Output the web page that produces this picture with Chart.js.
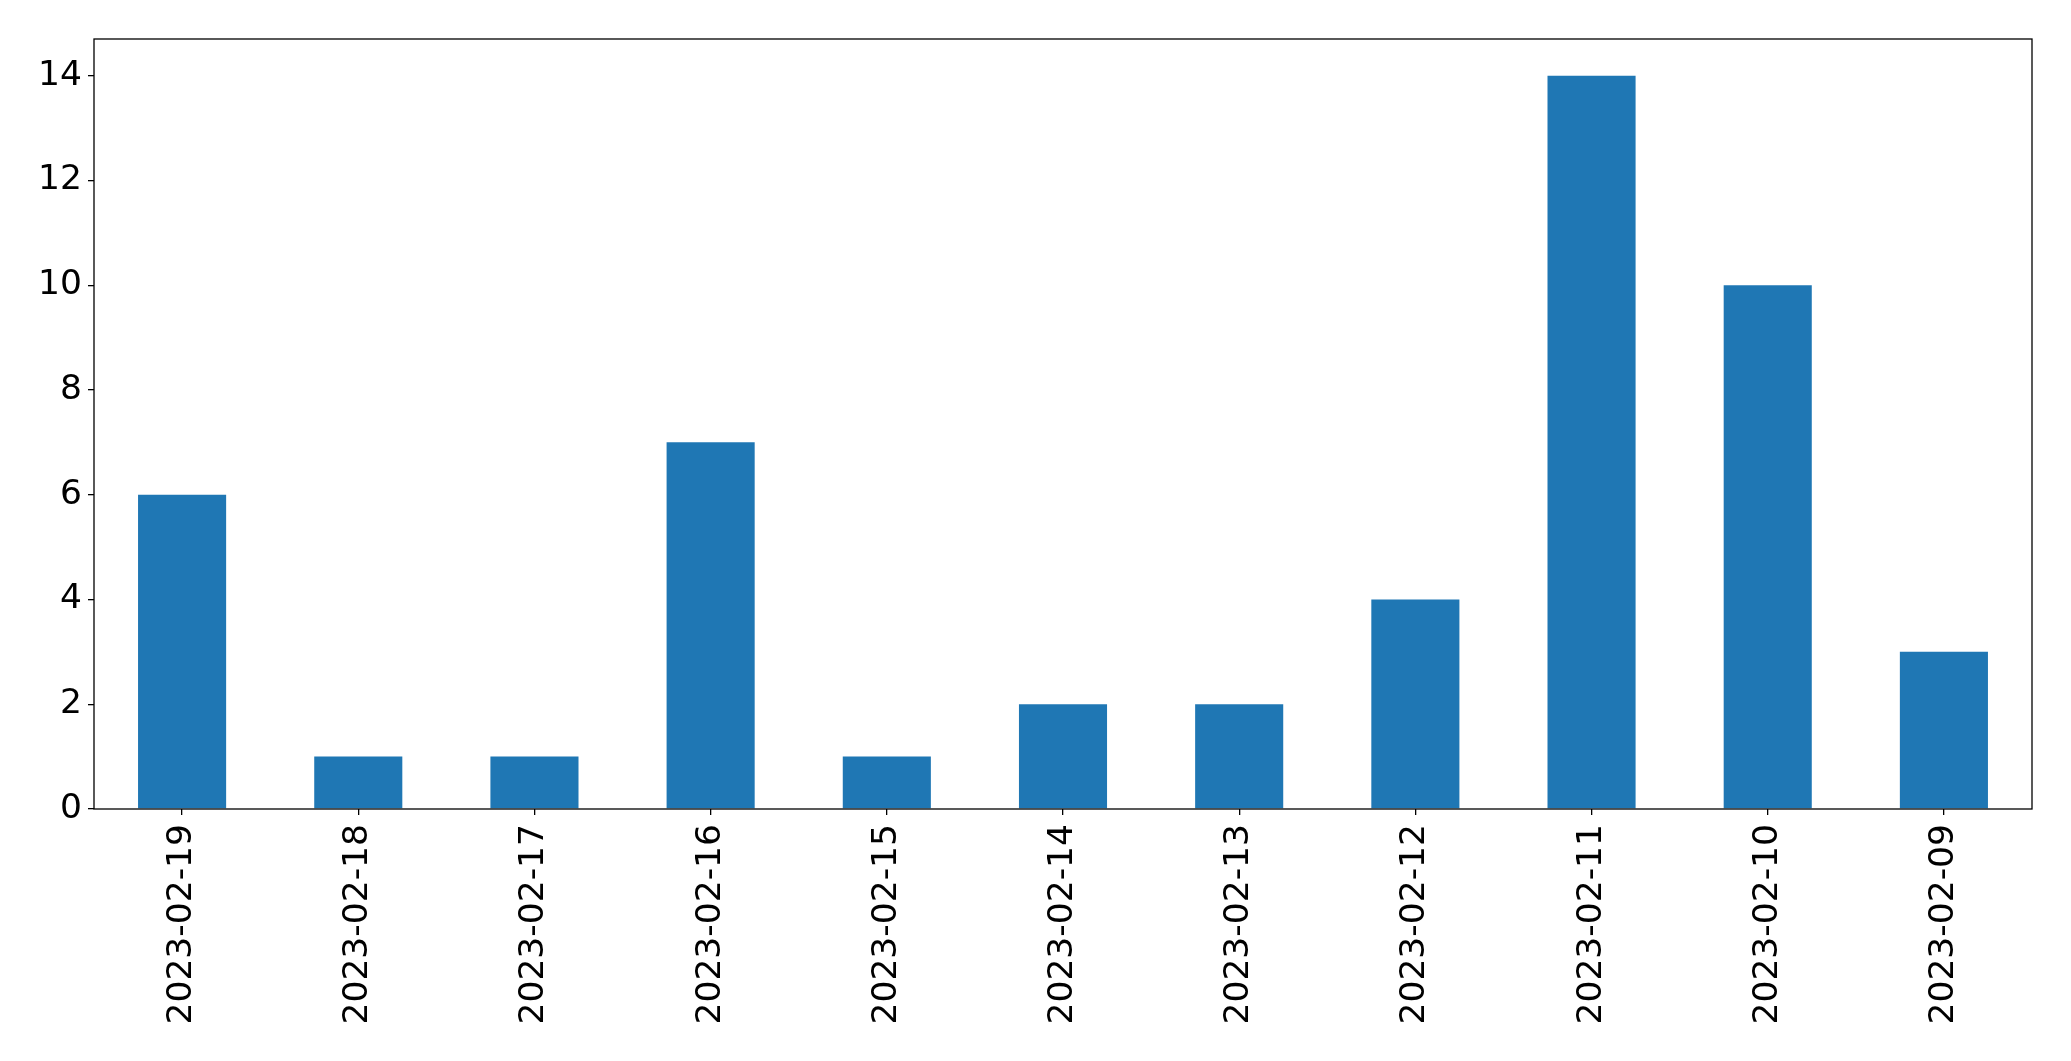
<!DOCTYPE html>
<html>
<head>
<meta charset="utf-8">
<script src="https://cdn.jsdelivr.net/npm/chart.js@4/dist/chart.umd.min.js"></script>
<style>
  html, body { margin: 0; padding: 0; background: #fff; }
  #wrap { width: 2071px; height: 1061px; }
</style>
</head>
<body>
<div id="wrap"><canvas id="grafico"></canvas></div>
<script>
// datos
var fechas = ['2023-02-19', '2023-02-18', '2023-02-17', '2023-02-16', '2023-02-15', '2023-02-14',
              '2023-02-13', '2023-02-12', '2023-02-11', '2023-02-10', '2023-02-09'];
var cantidades = [6, 1, 1, 7, 1, 2, 2, 4, 14, 10, 3];
var ticksY = [0, 2, 4, 6, 8, 10, 12, 14];

// marco negro alrededor del area del grafico
var marco = {
    id: 'marco',
    afterDraw: function(chart) {
        var a = chart.chartArea;
        var ctx = chart.ctx;
        ctx.save();
        ctx.strokeStyle = '#000';
        ctx.lineWidth = 1.3;
        ctx.strokeRect(a.left, a.top, a.right - a.left, a.bottom - a.top);
        ctx.restore();
    }
};

document.addEventListener("DOMContentLoaded", function() {
    Chart.defaults.font.family = 'DejaVu Sans';
    Chart.defaults.color = '#000';

    var ctx = document.getElementById('grafico').getContext('2d');

    var grafico = new Chart(ctx, {
        type: 'bar',
        data: {
            labels: fechas,
            datasets: [{
                data: cantidades,
                backgroundColor: '#1f77b4',
                borderWidth: 0,
                barPercentage: 0.5,
                categoryPercentage: 1.0
            }]
        },
        options: {
            responsive: true,
            maintainAspectRatio: false,
            animation: false,
            layout: { padding: { top: 39, right: 39, left: 0, bottom: 0 } },
            plugins: {
                legend: { display: false },
                tooltip: { enabled: false }
            },
            scales: {
                x: {
                    offset: true,
                    grid: { display: true, offset: false, drawOnChartArea: false, drawTicks: true, tickLength: 6, color: '#000', lineWidth: 1.3 },
                    border: { display: false },
                    ticks: { font: { size: 34.5 }, maxRotation: 90, minRotation: 90, padding: 9, autoSkip: false },
                    afterFit: function(scale) { scale.height = 1061 - 809; }
                },
                y: {
                    min: 0,
                    max: 14.7,
                    grid: { display: true, drawOnChartArea: false, drawTicks: true, tickLength: 6, color: '#000', lineWidth: 1.3 },
                    border: { display: false },
                    afterBuildTicks: function(scale) {
                        scale.ticks = ticksY.map(function(v) { return { value: v }; });
                    },
                    ticks: { font: { size: 34.5 }, padding: 6 },
                    afterFit: function(scale) { scale.width = 94; }
                }
            }
        },
        plugins: [marco]
    });
});
</script>
</body>
</html>
